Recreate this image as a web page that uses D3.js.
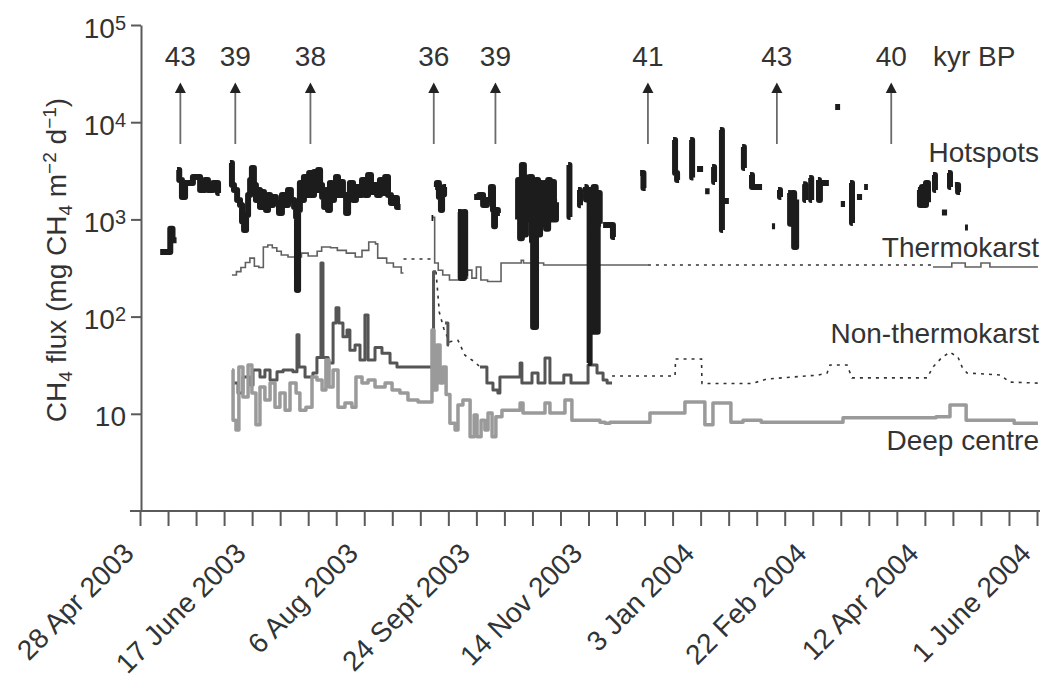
<!DOCTYPE html>
<html>
<head>
<meta charset="utf-8">
<script src="https://cdn.jsdelivr.net/npm/d3@7"></script>
<style>
  html, body { margin: 0; padding: 0; background: #fff; }
  svg { display: block; }
  text { font-family: "Liberation Sans", Arial, Helvetica, sans-serif; fill: #333; }
</style>
</head>
<body>
<svg id="chart" width="1048" height="679"></svg>
<script>
// Days are counted from 28 Apr 2003; fluxes are in mg CH4 m-2 d-1.
// null entries break a series into separate runs.

const hotspots = [
  [9.0, 462], [13.0, 462], [13.5, 800], [14.5, 610], [16.3, 610], null,
  [16.5, 3220], [17.5, 2540], [18.7, 1700], [20.1, 2370], [23.6, 2730], [26.8, 2005], [29.0, 2540],
  [30.3, 2005], [32.6, 2370], [34.8, 1870], [35.5, 1870], null,
  [40.1, 3800], [41.0, 2260], [41.9, 2005], [43.3, 1585], [44.6, 1407], [45.5, 950], [46.4, 778],
  [47.3, 1110], [48.2, 1785], [49.1, 2540], [49.9, 3380], [50.8, 2260], [51.7, 1585], [52.6, 2005],
  [53.5, 1343], [54.4, 1915], [55.3, 1585], [56.2, 1250], [57.1, 1785], [58.0, 1407], [59.3, 1700],
  [60.6, 1475], [62.0, 1165], [63.3, 1785], [64.7, 1407], [66.0, 2005], [67.3, 1585], [68.7, 1343],
  [69.6, 1058], [70.0, 188], [70.5, 1250], [71.3, 2370], [72.2, 1585], [73.1, 2730], [74.0, 1785],
  [75.4, 3000], [76.3, 1785], [77.6, 3070], [78.5, 2005], [79.4, 3220], [80.3, 2260], [81.2, 1700],
  [82.1, 1343], [83.0, 2005], [83.8, 1250], [84.7, 2370], [85.6, 1585], [86.5, 1870], [87.4, 2730],
  [88.3, 1785], [89.6, 2430], [90.5, 1785], [91.9, 1165], [92.8, 1785], [93.6, 2370], [95.0, 1585],
  [96.3, 2155], [97.6, 1785], [99.0, 2540], [100.3, 1785], [101.7, 2860], [103.0, 1915], [104.3, 2260],
  [105.7, 1785], [107.0, 2540], [108.4, 1870], [109.3, 2730], [110.6, 1785], [111.9, 1475], [113.3, 1660],
  [114.6, 1343], [116.2, 1343], null,
  [130.0, 1033], [130.8, 1033], null,
  [131.6, 2155], [132.4, 2370], [133.3, 1700], [134.2, 1250], [134.7, 1800], [135.6, 2155], [136.5, 2155], null,
  [141.8, 1190], [143.0, 250], [144.5, 1190], [145.0, 260], [145.5, 260], null,
  [149.0, 1700], [151.2, 1785], [153.0, 1407], [154.7, 1585], [156.5, 2155], [157.4, 1250], [157.9, 850],
  [158.3, 1250], [159.6, 1165], [160.5, 1165], null,
  [168.2, 1000], [168.6, 2540], [169.5, 640], [170.3, 3630], [171.2, 700], [172.1, 2700], [173.0, 1000],
  [173.9, 2730], [174.8, 600], [175.3, 78], [176.6, 2540], [177.5, 700], [178.4, 2370], [179.3, 900],
  [180.2, 2370], [181.1, 800], [182.0, 2540], [182.8, 1000], [183.7, 2430], [184.6, 1000], [185.5, 1500],
  [186.0, 1500], null,
  [190.9, 3630], [191.5, 1058], [192.0, 1058], null,
  [195.3, 2005], [196.2, 1400], [196.6, 1400], null,
  [198.2, 2155], [198.9, 1600], [199.3, 1600], null,
  [199.8, 33.3], [200.5, 2005], [201.4, 70], [202.3, 2155], [203.2, 70], [204.1, 1870], [205.0, 900], [205.6, 900], null,
  [206.5, 875], [210.5, 875], [210.9, 659], [211.8, 659], null,
  [223.0, 3000], [224.5, 2100], [225.5, 2100], null,
  [237.7, 6560], [238.6, 3000], [239.5, 2540], [240.4, 2540], null,
  [245.3, 6560], [246.2, 2700], [246.8, 2700], null,
  [248.4, 3300], [251.1, 3300], null,
  [252.0, 1950], [254.0, 1950], null,
  [255.1, 3460], [256.0, 2430], [256.4, 2430], null,
  [258.6, 8310], [259.5, 778], [260.0, 778], null,
  [260.7, 1550], [262.6, 1550], null,
  [268.5, 5560], [269.3, 3380], [269.8, 3380], null,
  [272.0, 2860], [272.9, 2155], [277.4, 2155], null,
  [281.8, 850], [283.2, 850], null,
  [284.5, 2005], [285.4, 1700], [286.0, 1700], null,
  [289.0, 1870], [289.9, 900], [290.8, 1870], [291.7, 520], [292.6, 1600], [293.0, 1600], null,
  [295.7, 2300], [296.6, 1585], [297.0, 1585], null,
  [298.4, 2670], [299.3, 1585], [299.7, 1585], null,
  [302.3, 2540], [302.8, 1585], [303.2, 2370], [307.2, 2370], null,
  [310.0, 14300], [312.2, 14300], null,
  [312.5, 1440], [314.4, 1440], null,
  [316.6, 2370], [317.5, 918], [317.9, 918], null,
  [319.7, 1700], [322.0, 1700], null,
  [322.9, 2155], [324.6, 2155], null,
  [346.9, 2005], [347.8, 1407], [348.7, 2155], [349.6, 1407], [350.5, 2370], [351.4, 1500], [351.8, 1500], null,
  [353.6, 2860], [354.5, 2005], [355.0, 2005], null,
  [357.6, 1180], [359.9, 1180], null,
  [360.3, 3000], [361.2, 2155], [361.7, 2155], null,
  [363.4, 2260], [364.8, 1915], [365.7, 1915], null,
  [367.9, 825], [369.2, 825]
];

const thermokarst = [
  [41, 268], [43, 290], [45, 320], [47, 360], [49, 400], [51, 330], [53, 320], [55, 520], [57, 546],
  [59, 510], [61, 470], [63, 430], [66, 410], [70, 410], [72, 450], [75, 420], [79, 470], [81, 520],
  [85, 510], [88, 480], [92, 450], [96, 410], [99, 480], [102, 585], [105, 560], [106, 400], [110, 356],
  [113, 324], [116.5, 281], [117.5, 281], null,
  [130.7, 1050], [131.4, 356], [133, 300], [135, 268], [138, 238], [142.7, 249], [146, 301], [148, 249],
  [150, 324], [152, 238], [155, 230], [161, 356], [170, 380], [171, 356], [180, 340], [226.5, 340], null,
  [353.6, 324], [362, 356], [368, 324], [375, 356], [379, 324], [400.4, 324]
];
// gap-filled stretches of the thermokarst record (drawn dotted)
const thermokarstFilled = [
  [117.5, 391], [130.7, 391], null,
  [226.5, 340], [353.6, 340]
];

const nonThermokarst = [
  [41.5, 20.7], [43.7, 16.4], [45.9, 23.9], [49.1, 19.8], [50.4, 28.2], [53.5, 23.9], [55.7, 28.2],
  [58.0, 22.3], [61.1, 27], [63.8, 28.2], [68.2, 27], [70.0, 65], [70.9, 30.3], [73.6, 23.9], [77.1, 26.3],
  [78.9, 38], [80.7, 356], [81.6, 38], [83.9, 33.3], [86.1, 86], [87.4, 123], [88.7, 86], [90.5, 62],
  [92.3, 73], [93.6, 45], [95.9, 51], [98.1, 35.8], [100.3, 104], [101.7, 35.8], [104.8, 48], [107.9, 42],
  [111.5, 33.3], [114.6, 30.3], [130.9, 290], [132.0, 290], null,
  [136.0, 86], [137.3, 51], [137.8, 51], null,
  [151.6, 30.3], [154.7, 20.7], [157.4, 17.6], [159.6, 16.4], [160.5, 23.9], [169.5, 33.3], [170.3, 20.7],
  [174.8, 26.3], [177.5, 20.7], [180.6, 37.5], [182.8, 20.7], [189.0, 25.1], [192.2, 20.7], [199.8, 31.8],
  [203.8, 26.3], [206.5, 22.3], [208.3, 20.7], [210.5, 20.7]
];
const nonThermokarstFilled = [
  [132.0, 290], [133.5, 110], [135.5, 75], [138, 55], [141.8, 57], [144.9, 40], [149.4, 34], [151.6, 30.3], null,
  [210.5, 24.5], [238.6, 24.5], [238.8, 36.6], [250.4, 36.6], [250.6, 20.5], [272.9, 20.5], [279.6, 22.8],
  [302.3, 25], [306.4, 26.3], [307.7, 31.8], [315.3, 31.8], [317.5, 23.4], [351, 23.4], [353.6, 30.3],
  [357.6, 38], [361.2, 43], [364.8, 38], [366.6, 30.3], [368.8, 26.3], [383.5, 25.1], [388, 21.2], [400.4, 20.7]
];

const deepCentre = [
  [41.0, 28.2], [41.5, 8.6], [42.8, 6.8], [44.1, 30.3], [45.9, 14.9], [48.2, 31.8], [49.9, 16.4],
  [51.7, 7.7], [53.5, 18.9], [55.7, 13.9], [58.0, 20.7], [60.2, 11.7], [62.4, 16.4], [64.7, 10.9],
  [66.9, 20.7], [69.6, 16.4], [71.3, 10.9], [74.0, 11.7], [76.7, 23.9], [78.9, 22.3], [81.2, 17.6],
  [82.9, 35.8], [84.3, 18.9], [86.1, 28.2], [88.3, 11.7], [91.4, 12.9], [94.5, 11.7], [96.3, 23.9],
  [99.0, 20.7], [101.7, 22.3], [104.8, 18.9], [109.3, 20.7], [112.4, 17.6], [115.9, 16.4], [119.5, 13.9],
  [124.0, 13.2], [130.2, 73], [131.1, 17.6], [132.4, 51], [133.8, 20.7], [135.1, 30.3], [136.5, 15.8],
  [138.2, 8.0], [140.5, 6.8], [141.8, 12.3], [144.0, 13.9], [147.2, 5.8], [149.0, 9.7], [150.3, 5.8],
  [152.1, 8.6], [153.8, 6.8], [155.2, 10.2], [157.0, 5.8], [158.7, 9.3], [161.4, 10.9], [169.5, 12.9],
  [170.8, 10.2], [180.6, 12.9], [182.8, 10.2], [189.5, 13.9], [192.6, 8.6], [205.1, 8.2], [207.4, 8.0],
  [209.6, 8.2], [227.4, 10.2], [243.0, 13.2], [251.9, 7.7], [255.5, 12.9], [263.5, 8.2], [268.9, 8.6],
  [277, 8.2], [313.5, 9.1], [355, 9.3], [361.2, 12.3], [368.4, 8.6], [389.8, 8.0], [400.4, 8.0]
];

// radiocarbon ages of the emitted methane (kyr BP) and the days they were sampled
const arrowDays = [18, 42.5, 76, 131, 158.5, 226.5, 284, 335];
const arrowAges = ["43", "39", "38", "36", "39", "41", "43", "40"];

const xTickLabels = ["28 Apr 2003", "17 June 2003", "6 Aug 2003", "24 Sept 2003", "14 Nov 2003",
                     "3 Jan 2004", "22 Feb 2004", "12 Apr 2004", "1 June 2004"];
const yTickValues = [10, 100, 1000, 10000, 100000];
const yTickExponents = ["", "2", "3", "4", "5"];
const seriesNames = ["Hotspots", "Thermokarst", "Non-thermokarst", "Deep centre"];

// ---------------------------------------------------------------
const START = Date.UTC(2003, 3, 28);
const DAY = 864e5;
const toDate = d => new Date(START + d * DAY);

const x = d3.scaleUtc().domain([toDate(0), toDate(400)]).range([140, 1037]);
const y = d3.scaleLog().domain([1, 1e5]).range([511, 25]);

const svg = d3.select("#chart");
const axisColour = "#5a5a5a";

// y axis
const yAxis = svg.append("g")
  .attr("transform", "translate(141,0)")
  .call(d3.axisLeft(y).tickValues(yTickValues).tickSize(10).tickSizeOuter(0).tickFormat(""));
yAxis.select(".domain").attr("stroke", axisColour).attr("stroke-width", 2);
yAxis.selectAll(".tick line").attr("stroke", axisColour).attr("stroke-width", 2);
yAxis.selectAll(".tick text").remove();
yAxis.selectAll(".tick").append("text")
  .attr("x", -15).attr("y", 12)
  .attr("text-anchor", "end")
  .attr("font-size", 28)
  .each(function (d, i) {
    const t = d3.select(this);
    t.append("tspan").text("10");
    if (yTickExponents[i]) t.append("tspan").attr("font-size", 20).attr("dy", -8).text(yTickExponents[i]);
  });

// x axis: a tick every 12.5 days, labelled every 50 days
const xTickDays = d3.range(0, 400.1, 12.5);
const xAxis = svg.append("g")
  .attr("transform", "translate(0,511)")
  .call(d3.axisBottom(x)
    .tickValues(xTickDays.map(toDate))
    .tickSize(15).tickSizeOuter(0)
    .tickFormat((d, i) => (i % 4 === 0 ? xTickLabels[i / 4] : "")));
xAxis.select(".domain").attr("d", "M130,0H1040").attr("stroke", axisColour).attr("stroke-width", 2);
xAxis.selectAll(".tick line").attr("stroke", axisColour).attr("stroke-width", 2);
xAxis.selectAll(".tick text")
  .attr("x", 0).attr("y", 0).attr("dy", 0)
  .attr("text-anchor", "end")
  .attr("font-size", 28)
  .attr("transform", "translate(-5,44) rotate(-45)");

// y axis title
const yTitle = svg.append("text")
  .attr("transform", "translate(66,260) rotate(-90)")
  .attr("text-anchor", "middle")
  .attr("font-size", 28);
yTitle.append("tspan").text("CH");
yTitle.append("tspan").attr("font-size", 19).attr("dy", 6).text("4");
yTitle.append("tspan").attr("dy", -6).text(" flux (mg CH");
yTitle.append("tspan").attr("font-size", 19).attr("dy", 6).text("4");
yTitle.append("tspan").attr("dy", -6).text(" m");
yTitle.append("tspan").attr("font-size", 19).attr("dy", -10).text("\u22122");
yTitle.append("tspan").attr("dy", 10).text(" d");
yTitle.append("tspan").attr("font-size", 19).attr("dy", -10).text("\u22121");
yTitle.append("tspan").attr("dy", 10).text(")");

// series
const px = d => x(toDate(d[0]));
const py = d => y(d[1]);
const stepLine = d3.line().defined(d => d).x(px).y(py).curve(d3.curveStepAfter);
const fillLine = d3.line().defined(d => d).x(px).y(py);

const plot = svg.append("g").attr("fill", "none");

plot.append("path").attr("d", fillLine(thermokarstFilled))
  .attr("stroke", "#333").attr("stroke-width", 1.6).attr("stroke-dasharray", "3,5");
plot.append("path").attr("d", fillLine(nonThermokarstFilled))
  .attr("stroke", "#333").attr("stroke-width", 1.6).attr("stroke-dasharray", "3,5");

plot.append("path").attr("d", stepLine(nonThermokarst))
  .attr("stroke", "#555").attr("stroke-width", 3).attr("stroke-linejoin", "round");
plot.append("path").attr("d", stepLine(deepCentre))
  .attr("stroke", "#9a9a9a").attr("stroke-width", 3.5).attr("stroke-linejoin", "round");
plot.append("path").attr("d", stepLine(thermokarst))
  .attr("stroke", "#606060").attr("stroke-width", 1.6);
plot.append("path").attr("d", stepLine(hotspots))
  .attr("stroke", "#1c1c1c").attr("stroke-width", 6).attr("stroke-linejoin", "round");

// dating arrows
const arrows = svg.append("g").selectAll("g").data(arrowDays).join("g")
  .attr("transform", d => `translate(${x(toDate(d))},0)`);
arrows.append("line").attr("y1", 144).attr("y2", 91)
  .attr("stroke", "#6a6a6a").attr("stroke-width", 1.8);
arrows.append("path").attr("d", "M-5.5,93L0,82.5L5.5,93Z").attr("fill", "#222");
arrows.append("text").attr("y", 66).attr("text-anchor", "middle").attr("font-size", 28)
  .text((d, i) => arrowAges[i]);
svg.append("text").attr("x", 933).attr("y", 66).attr("font-size", 28).text("kyr BP");

// series names
const nameBaselines = [162, 257, 343, 450];
svg.append("g").selectAll("text").data(seriesNames).join("text")
  .attr("x", 1039).attr("y", (d, i) => nameBaselines[i])
  .attr("text-anchor", "end").attr("font-size", 28)
  .text(d => d);
</script>
</body>
</html>
